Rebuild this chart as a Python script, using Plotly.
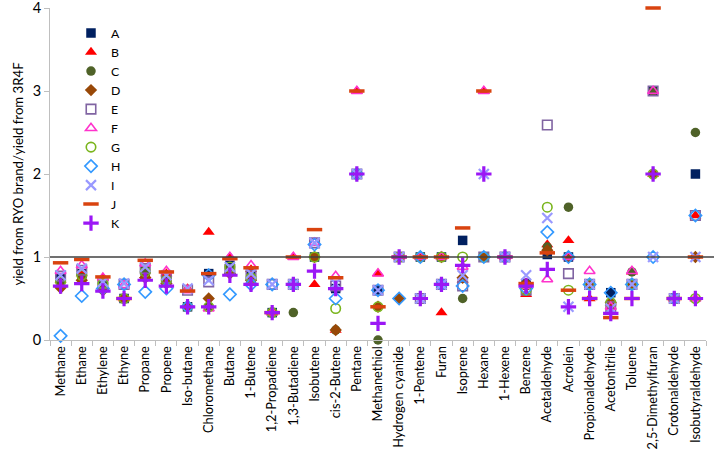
import plotly.graph_objects as go

categories = ["Methane", "Ethane", "Ethylene", "Ethyne", "Propane", "Propene", "Iso-butane",
              "Chloromethane", "Butane", "1-Butene", "1,2-Propadiene", "1,3-Butadiene", "Isobutene",
              "cis-2-Butene", "Pentane", "Methanethiol", "Hydrogen cyanide", "1-Pentene", "Furan",
              "Isoprene", "Hexane", "1-Hexene", "Benzene", "Acetaldehyde", "Acrolein",
              "Propionaldehyde", "Acetonitrile", "Toluene", "2,5-Dimethylfuran", "Crotonaldehyde",
              "Isobutyraldehyde"]

A = [0.75, 0.80, 0.65, 0.50, 0.83, 0.72, 0.40, 0.80, 0.90, 0.80, 0.33, 0.67, 1.00, 0.62, 2.00, 0.60,
     1.00, 1.00, 1.00, 1.20, 1.00, 1.00, 0.68, 1.03, 1.00, 0.67, 0.57, 0.67, 3.00, 0.50, 2.00]
B = [0.72, 0.80, 0.75, 0.50, 0.78, 0.80, 0.62, 1.30, 1.00, 0.85, 0.33, 1.00, 0.67, 0.12, 3.00, 0.80,
     1.00, 1.00, 0.33, 0.72, 3.00, 1.00, 0.55, 1.15, 1.20, 0.50, 0.45, 0.82, 2.00, 0.50, 1.50]
C = [0.70, 0.75, 0.65, 0.50, 0.80, 0.70, 0.40, 0.40, 0.85, 0.75, 0.33, 0.33, 1.00, 0.12, 2.00, 0.00,
     1.00, 1.00, 1.00, 0.50, 1.00, 1.00, 0.65, 1.12, 1.60, 0.67, 0.40, 0.82, 3.00, 0.50, 2.50]
D = [0.63, 0.72, 0.60, 0.50, 0.75, 0.68, 0.40, 0.50, 0.80, 0.72, 0.33, 0.67, 1.00, 0.12, 2.00, 0.40,
     0.50, 1.00, 1.00, 0.75, 1.00, 1.00, 0.68, 1.08, 1.00, 0.67, 0.45, 0.67, 2.00, 0.50, 1.00]
E = [0.77, 0.84, 0.68, 0.67, 0.86, 0.75, 0.60, 0.70, 0.85, 0.78, 0.67, 0.67, 1.17, 0.65, 2.00, 0.60,
     1.00, 0.50, 0.67, 0.65, 1.00, 1.00, 0.60, 2.59, 0.80, 0.67, 0.40, 0.67, 3.00, 0.50, 1.50]
F = [0.83, 0.90, 0.75, 0.66, 0.92, 0.83, 0.60, 0.38, 1.00, 0.90, 0.33, 1.00, 1.17, 0.77, 3.00, 0.80,
     1.00, 1.00, 1.00, 0.88, 3.00, 1.00, 0.65, 0.73, 1.00, 0.83, 0.40, 0.83, 3.00, 0.50, 0.50]
G = [0.70, 0.78, 0.68, 0.50, 0.82, 0.72, 0.40, 0.40, 0.88, 0.75, 0.33, 0.67, 1.00, 0.38, 2.00, 0.40,
     1.00, 1.00, 1.00, 1.00, 1.00, 1.00, 0.60, 1.60, 0.60, 0.67, 0.45, 0.67, 2.00, 0.50, 0.50]
H = [0.05, 0.53, 0.62, 0.67, 0.58, 0.62, 0.40, 0.78, 0.55, 0.67, 0.67, 0.67, 1.15, 0.50, 2.00, 0.60,
     0.50, 1.00, 0.67, 0.65, 1.00, 1.00, 0.62, 1.30, 1.00, 0.67, 0.57, 0.67, 1.00, 0.50, 1.50]
I = [0.78, 0.86, 0.70, 0.68, 0.88, 0.78, 0.62, 0.72, 0.88, 0.80, 0.67, 0.67, 1.17, 0.68, 2.00, 0.60,
     1.00, 0.50, 0.67, 0.78, 2.00, 1.00, 0.78, 1.47, 0.40, 0.67, 0.38, 0.67, 1.00, 0.50, 1.00]
J = [0.93, 0.97, 0.76, 0.50, 0.96, 0.82, 0.59, 0.80, 0.98, 0.87, 0.33, 1.00, 1.33, 0.75, 3.00, 0.40,
     1.00, 1.00, 1.00, 1.35, 3.00, 1.00, 0.68, 1.05, 0.60, 0.50, 0.27, 0.50, 4.00, 0.50, 1.00]
K = [0.65, 0.68, 0.59, 0.50, 0.72, 0.65, 0.40, 0.40, 0.78, 0.67, 0.33, 0.67, 0.83, 0.62, 2.00, 0.20,
     1.00, 0.50, 0.67, 0.90, 2.00, 1.00, 0.65, 0.85, 0.40, 0.50, 0.32, 0.50, 2.00, 0.50, 0.50]

series = [
    ("A", A, "square", "#002060", False),
    ("B", B, "triangle-up", "#FF0000", False),
    ("C", C, "circle", "#4F6228", False),
    ("D", D, "diamond", "#984807", False),
    ("E", E, "square-open", "#8064A2", True),
    ("F", F, "triangle-up-open", "#FF33CC", True),
    ("G", G, "circle-open", "#7AB51D", True),
    ("H", H, "diamond-open", "#3399FF", True),
    ("I", I, "x-thin-open", "#9999FF", True),
    ("J", J, "line-ew-open", "#D9430F", True),
    ("K", K, "cross-thin-open", "#9B17F5", True),
]

fig = go.Figure()
for name, vals, sym, col, is_open in series:
    size = 9.5
    lw = 1.6
    if sym.startswith("x-thin"):
        size, lw = 10, 2.2
    if sym.startswith("line-ew"):
        size, lw = 11, 3.5
    if sym.startswith("cross-thin"):
        size, lw = 11, 3.2
    if sym == "triangle-up":
        size = 10.5
    marker = dict(symbol=sym, size=size, color=col,
                  line=dict(color=col, width=lw if is_open else 0))
    fig.add_trace(go.Scatter(x=categories, y=vals, mode="markers", name=name, marker=marker,
                             cliponaxis=False))

fig.add_shape(type="line", xref="paper", yref="y", x0=0, x1=1.015, y0=1, y1=1,
              line=dict(color="#404040", width=1.3))

fig.update_layout(
    width=714, height=453,
    margin=dict(l=50, r=8, t=8, b=113, autoexpand=False),
    plot_bgcolor="white", paper_bgcolor="white",
    font=dict(family="Lato, Open Sans, sans-serif", size=12, color="#000000"),
    showlegend=True,
    legend=dict(x=0.032, y=0.968, xanchor="left", yanchor="top", bgcolor="rgba(0,0,0,0)",
                font=dict(size=12.3), tracegroupgap=0, itemwidth=30),
    xaxis=dict(type="category", showline=True, linecolor="#BFBFBF", linewidth=1,
               ticks="outside", tickson="boundaries", ticklen=5, tickcolor="#BFBFBF",
               tickangle=-90, showgrid=False, tickfont=dict(size=12.8), automargin=False,
               range=[-0.5, len(categories) - 0.5]),
    yaxis=dict(range=[0, 4], tickvals=[0, 1, 2, 3, 4], showline=True, linecolor="#BFBFBF",
               linewidth=1, ticks="outside", ticklen=5, tickcolor="#BFBFBF", showgrid=False,
               zeroline=False, tickfont=dict(size=14.5), ticklabeloverflow="allow",
               automargin=False,
               title=dict(text="yield from RYO brand/yield from 3R4F", font=dict(size=13.2),
                          standoff=6)),
)

fig.write_html("out.html", config={"displayModeBar": False},
               post_script="document.body.style.margin='0';")
